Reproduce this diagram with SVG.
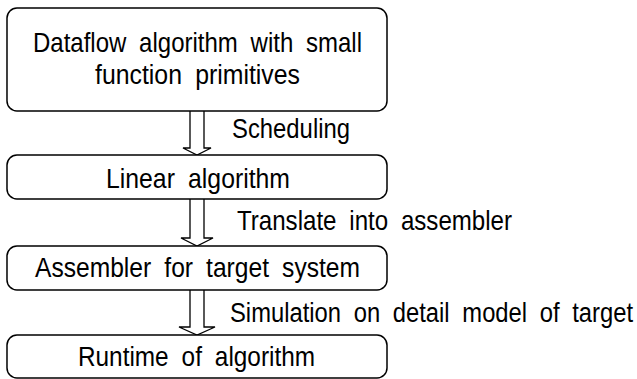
<svg xmlns="http://www.w3.org/2000/svg" width="637" height="379" viewBox="0 0 637 379">
<style>
.box{fill:#fff;stroke:#000;stroke-width:1.5}
.arr{fill:#fff;stroke:#000;stroke-width:1.3;stroke-linejoin:miter}
text{font-family:"Liberation Sans",Arial,sans-serif;font-size:27.5px;fill:#000;word-spacing:7px}
</style>
<rect width="637" height="379" fill="#fff"/>
<g id="connectors">
<path class="arr" d="M190,111 V148 H183 L197,155 L211,148 H204 V111"/>
<path class="arr" d="M190,199 V238 H181 L197,246 L213,238 H204 V199"/>
<path class="arr" d="M190,290 V327 H179 L197,335 L215,327 H204 V290"/>
<text x="232" y="138" textLength="118" lengthAdjust="spacingAndGlyphs">Scheduling</text>
<text x="237" y="230" textLength="275" lengthAdjust="spacingAndGlyphs">Translate into assembler</text>
<text transform="translate(230,322) scale(0.865,1)" x="0" y="0">Simulation on detail model of target</text>
</g>
<g id="node1">
<rect class="box" x="7" y="8" width="380" height="103" rx="10"/>
<text x="33" y="52" textLength="329" lengthAdjust="spacingAndGlyphs">Dataflow algorithm with small</text>
<text x="95" y="84" textLength="205" lengthAdjust="spacingAndGlyphs">function primitives</text>
</g>
<g id="node2">
<rect class="box" x="7" y="155" width="380" height="44" rx="10"/>
<text x="106" y="188" textLength="184" lengthAdjust="spacingAndGlyphs">Linear algorithm</text>
</g>
<g id="node3">
<rect class="box" x="7" y="246" width="380" height="44" rx="10"/>
<text x="35" y="277" textLength="325" lengthAdjust="spacingAndGlyphs">Assembler for target system</text>
</g>
<g id="node4">
<rect class="box" x="7" y="335" width="380" height="43" rx="10"/>
<text x="78" y="366" textLength="237" lengthAdjust="spacingAndGlyphs">Runtime of algorithm</text>
</g>
</svg>
